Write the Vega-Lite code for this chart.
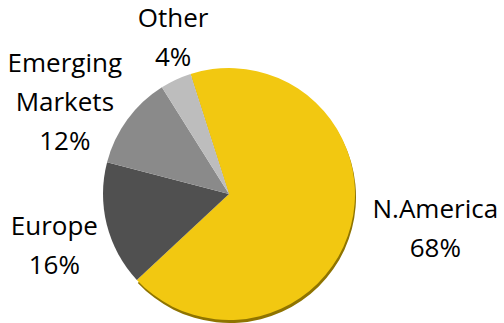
{
  "$schema": "https://vega.github.io/schema/vega-lite/v6.json",
  "width": 458,
  "height": 258,
  "autosize": {"type": "none"},
  "padding": {"left": 0, "top": 65, "right": 46, "bottom": 0},
  "background": "white",
  "view": {"stroke": null},
  "data": {
    "values": [
      {"region": "N.America", "share": 68, "order": 1, "lines": ["N.America", "68%"]},
      {"region": "Europe", "share": 16, "order": 2, "lines": ["Europe", "16%"]},
      {"region": "Emerging Markets", "share": 12, "order": 3, "lines": ["Emerging", "Markets", "12%"]},
      {"region": "Other", "share": 4, "order": 4, "lines": ["Other", "4%"]}
    ]
  },
  "encoding": {
    "theta": {"field": "share", "type": "quantitative", "stack": true, "scale": {"domain": [0, 100], "range": [-0.31, 5.973]}},
    "order": {"field": "order", "type": "quantitative"}
  },
  "layer": [
    {
      "mark": {"type": "arc", "outerRadius": 126, "yOffset": 3, "xOffset": 1, "color": "#8f7400"},
      "transform": [{"filter": "datum.region === 'N.America'"}]
    },
    {
      "mark": {"type": "arc", "outerRadius": 126},
      "encoding": {
        "color": {
          "field": "region",
          "type": "nominal",
          "scale": {
            "domain": ["N.America", "Europe", "Emerging Markets", "Other"],
            "range": ["#F2C811", "#505050", "#8a8a8a", "#bdbdbd"]
          },
          "legend": null
        }
      }
    },
    {
      "mark": {"type": "text", "radius": 175, "font": "Open Sans", "fontSize": 26, "lineHeight": 39, "color": "#000000", "align": "center", "baseline": "middle", "dx": 37, "dy": -28},
      "encoding": {"text": {"condition": {"test": "datum.region === 'N.America'", "field": "lines"}, "value": ""}}
    },
    {
      "mark": {"type": "text", "radius": 175, "font": "Open Sans", "fontSize": 26, "lineHeight": 39, "color": "#000000", "align": "center", "baseline": "middle", "dx": -5, "dy": -10},
      "encoding": {"text": {"condition": {"test": "datum.region === 'Europe'", "field": "lines"}, "value": ""}}
    },
    {
      "mark": {"type": "text", "radius": 175, "font": "Open Sans", "fontSize": 26, "lineHeight": 39, "color": "#000000", "align": "center", "baseline": "middle", "dx": -23, "dy": -27},
      "encoding": {"text": {"condition": {"test": "datum.region === 'Emerging Markets'", "field": "lines"}, "value": ""}}
    },
    {
      "mark": {"type": "text", "radius": 175, "font": "Open Sans", "fontSize": 26, "lineHeight": 39, "color": "#000000", "align": "center", "baseline": "middle", "dx": 18, "dy": -16},
      "encoding": {"text": {"condition": {"test": "datum.region === 'Other'", "field": "lines"}, "value": ""}}
    }
  ]
}
